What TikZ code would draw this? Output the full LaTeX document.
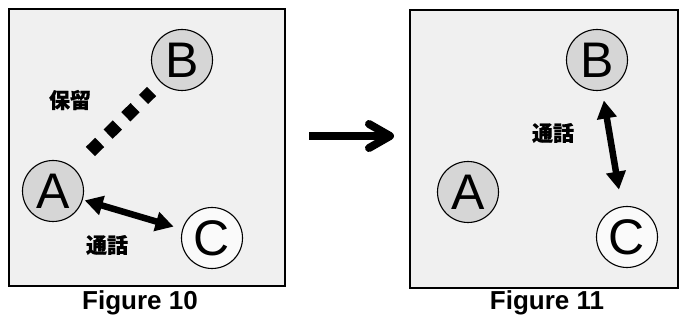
\documentclass[tikz,border=0pt]{standalone}
\usepackage{fontspec}
\setmainfont{Liberation Sans}
\newfontfamily\cjk{Noto Sans CJK JP}[BoldFeatures={FakeBold=0.6}]
\usetikzlibrary{arrows.meta}
\definecolor{panelgray}{HTML}{F0F0F0}
\definecolor{nodegray}{HTML}{D6D6D6}
\definecolor{nodewhite}{HTML}{FAFAFA}
\begin{document}
\begin{tikzpicture}[x=1pt,y=-1pt,
  panel/.style={draw=black,line width=1.6pt,fill=panelgray},
  party/.style={circle,draw=black,line width=1.1pt,minimum size=61pt,inner sep=0pt,font=\fontsize{50}{50}\selectfont},
  held/.style={party,fill=nodegray},
  free/.style={party,fill=nodewhite},
  lbl/.style={font=\cjk\bfseries\fontsize{21}{21}\selectfont},
  figcaption/.style={font=\bfseries\fontsize{26}{26}\selectfont},
  talk/.style={line width=6.5pt,{Triangle[length=18pt,width=19pt]}-{Triangle[length=18pt,width=19pt]}},
  hold/.style={line width=13pt,dash pattern=on 13pt off 11.8pt}
]
\useasboundingbox (0,0) rectangle (680,320);
% left panel: A talks to C, B on hold
\node[panel,minimum width=276pt,minimum height=277pt,anchor=north west] (p10) at (8,8) {};
\node[held] (a1) at (53,191) {A};
\node[held] (b1) at (182,60) {B};
\node[free] (c1) at (212,238) {C};
\coordinate (h1) at (90.4,151.5);
\coordinate (h2) at (151.6,91.5);
\draw[hold] (h1) -- (h2);
\draw[talk,shorten <=2pt,shorten >=9pt] (a1) -- (c1);
\node[lbl] (l1) at (70,100) {保留};
\node[lbl] (l2) at (107,245) {通話};
\node[figcaption] (f10) at (140,303) {Figure 10};
% transition arrow: thick shaft with a chevron head
\coordinate (t1) at (309,136);
\coordinate (t2) at (390,136);
\coordinate (tu) at (369,124);
\coordinate (td) at (369,148);
\draw[line width=8pt] (t1) -- (t2);
\draw[line width=8pt,line cap=round,line join=round] (tu) -- (t2) -- (td);
% right panel: B talks to C
\node[panel,minimum width=268pt,minimum height=278pt,anchor=north west] (p11) at (409,9) {};
\node[held] (a2) at (468,192) {A};
\node[held] (b2) at (597,60) {B};
\node[free] (c2) at (627,237) {C};
\draw[talk,shorten <=10pt,shorten >=17pt] (b2) -- (c2);
\node[lbl] (l3) at (553,133) {通話};
\node[figcaption] (f11) at (547,303) {Figure 11};
\end{tikzpicture}
\end{document}
